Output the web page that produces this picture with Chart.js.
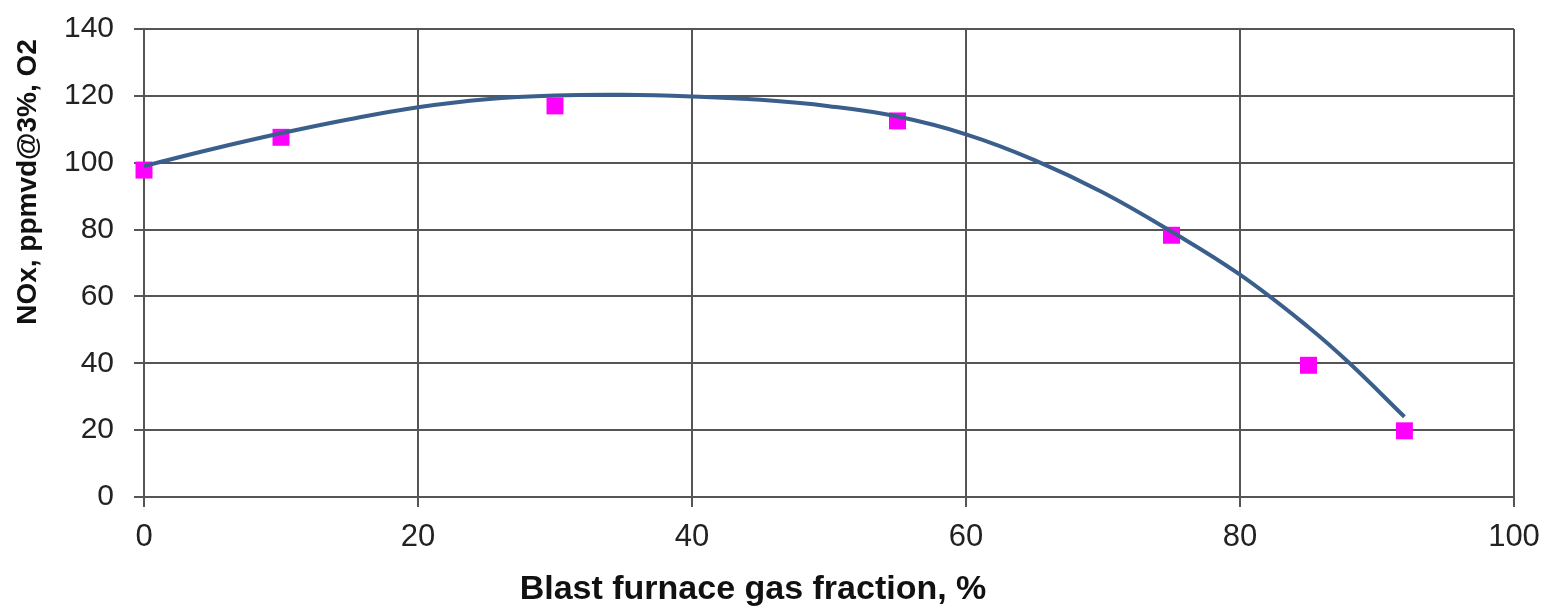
<!DOCTYPE html>
<html>
<head>
<meta charset="utf-8">
<script src="https://cdn.jsdelivr.net/npm/chart.js@4/dist/chart.umd.min.js"></script>
<style>
  html, body { margin: 0; padding: 0; background: #ffffff; }
  #wrap { width: 1548px; height: 609px; }
</style>
</head>
<body>
<div id="wrap"><canvas id="c" width="1548" height="609"></canvas></div>
<script>
// Measured points
const measX = [0, 10, 30, 55, 75, 85, 92];
const measY = [97.8, 107.6, 117, 112.5, 78.3, 39.4, 19.8];

// Trend curve
const curveX = [0, 5, 10, 15, 20, 25, 30, 35, 40, 45, 50, 55, 60, 65, 70, 75, 80, 85, 88, 92];
const curveY = [99.0, 104.1, 108.8, 113.0, 116.6, 119.0, 120.1, 120.3, 119.8, 118.8, 116.9, 113.8, 108.5, 100.8, 91.1, 79.4, 66.5, 50.8, 40.0, 24.0];

const xTicks = [0, 20, 40, 60, 80, 100];
const yTicks = [0, 20, 40, 60, 80, 100, 120, 140];

const xTitle = 'Blast furnace gas fraction, %';
const yTitle = 'NOx, ppmvd@3%, O2';

const FONT = '"Liberation Sans", Arial, sans-serif';

const axisTitles = {
  id: 'axisTitles',
  afterDraw(chart) {
    const ctx = chart.ctx;
    ctx.save();
    ctx.fillStyle = '#111';
    ctx.font = 'bold 34px ' + FONT;
    ctx.textAlign = 'center';
    ctx.textBaseline = 'middle';
    ctx.fillText(xTitle, 753, 590);
    ctx.translate(28, 182);
    ctx.rotate(-Math.PI / 2);
    ctx.font = 'bold 28px ' + FONT;
    ctx.fillText(yTitle, 0, 0);
    ctx.restore();
  }
};

new Chart(document.getElementById('c'), {
  type: 'scatter',
  data: {
    datasets: [
      {
        label: 'Trend',
        data: curveX.map((x, i) => ({ x: x, y: curveY[i] })),
        showLine: true,
        borderColor: '#3B5F8C',
        borderWidth: 4,
        pointRadius: 0,
        tension: 0.4,
        fill: false
      },
      {
        label: 'NOx',
        data: measX.map((x, i) => ({ x: x, y: measY[i] })),
        showLine: false,
        clip: false,
        pointStyle: 'rect',
        pointRadius: 12,
        pointBorderWidth: 0,
        backgroundColor: '#FF00FF',
        borderColor: '#FF00FF'
      }
    ]
  },
  options: {
    responsive: false,
    animation: false,
    devicePixelRatio: 1,
    layout: { padding: { left: 0, right: 34, top: 29, bottom: 0 } },
    plugins: { legend: { display: false }, tooltip: { enabled: false }, title: { display: false } },
    scales: {
      x: {
        type: 'linear',
        min: 0, max: 100,
        afterBuildTicks: (s) => { s.ticks = xTicks.map(v => ({ value: v })); },
        afterFit: (s) => { s.height = 112; s.paddingLeft = 0; s.paddingRight = 0; },
        grid: { color: '#555', lineWidth: 2, tickLength: 10, drawTicks: true },
        border: { color: '#555', width: 2 },
        ticks: { font: { family: FONT, size: 31 }, color: '#222', padding: 12, maxRotation: 0 }
      },
      y: {
        type: 'linear',
        min: 0, max: 140,
        afterBuildTicks: (s) => { s.ticks = yTicks.map(v => ({ value: v })); },
        afterFit: (s) => { s.width = 144; s.paddingTop = 0; s.paddingBottom = 0; },
        grid: { color: '#555', lineWidth: 2, tickLength: 10, drawTicks: true },
        border: { color: '#555', width: 2 },
        ticks: { font: { family: FONT, size: 30 }, color: '#222', padding: 20 }
      }
    }
  },
  plugins: [axisTitles]
});
</script>
</body>
</html>
